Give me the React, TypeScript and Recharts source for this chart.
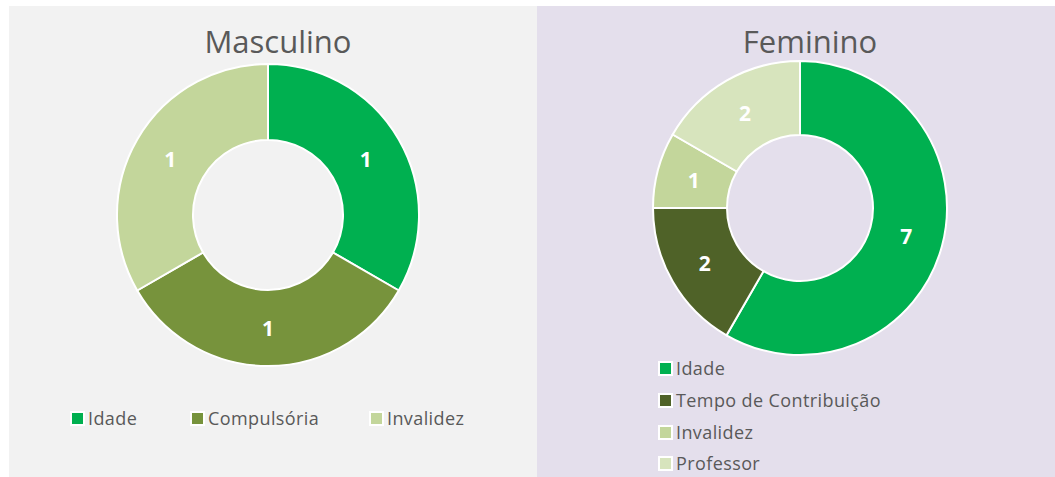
import { Cell, Legend, Pie, PieChart } from 'recharts';

const mascCategories = ['Idade', 'Compulsória', 'Invalidez'];
const mascValues = [1, 1, 1];
const mascColors = ['#00b050', '#77933c', '#c3d69b'];

const femCategories = ['Idade', 'Tempo de Contribuição', 'Invalidez', 'Professor'];
const femValues = [7, 2, 1, 2];
const femColors = ['#00b050', '#4f6228', '#c3d69b', '#d7e4bd'];

const FONT = '"Open Sans", "Noto Sans", sans-serif';
const RAD = Math.PI / 180;

const renderLabel = (props: any) => {
  const { cx, cy, midAngle, innerRadius, outerRadius, value } = props;
  const r = (innerRadius + outerRadius) / 2;
  const x = cx + r * Math.cos(-midAngle * RAD);
  const y = cy + r * Math.sin(-midAngle * RAD);
  return (
    <text
      x={x}
      y={y}
      fill="#fff"
      textAnchor="middle"
      dominantBaseline="central"
      fontFamily={FONT}
      fontWeight="bold"
      fontSize={21}
    >
      {value}
    </text>
  );
};

const legendItem = (name: string, color: string, style: any) => (
  <div key={name} style={{ position: 'absolute', display: 'flex', alignItems: 'center', ...style }}>
    <span
      style={{
        width: 11,
        height: 11,
        background: color,
        border: '2px solid #fff',
        marginRight: 3,
        display: 'inline-block',
      }}
    />
    <span style={{ fontFamily: FONT, fontSize: 18, letterSpacing: 0.4, color: '#595959', whiteSpace: 'nowrap' }}>
      {name}
    </span>
  </div>
);

const mascData = mascCategories.map((name, i) => ({ name, value: mascValues[i] }));
const femData = femCategories.map((name, i) => ({ name, value: femValues[i] }));

const mascLegendX = [70, 190, 369];
const femLegendY = [368, 400, 432, 463];

const titleStyle = {
  position: 'absolute' as const,
  fontFamily: FONT,
  fontSize: 31,
  color: '#595959',
  textAlign: 'center' as const,
  width: 300,
  lineHeight: '40px',
};

export default function App() {
  return (
    <div style={{ position: 'absolute', left: 0, top: 0, width: 1055, height: 477, background: '#fff', overflow: 'hidden' }}>
      <div style={{ position: 'absolute', left: 9, top: 6, width: 528, height: 471, background: '#f2f2f2' }}>
        <div style={{ ...titleStyle, left: 269 - 150, top: 15 }}>Masculino</div>
        <PieChart width={528} height={471} style={{ position: 'absolute', left: 0, top: 0 }}>
          <Pie
            data={mascData}
            dataKey="value"
            nameKey="name"
            cx={254}
            cy={204}
            innerRadius={75}
            outerRadius={151}
            startAngle={90}
            endAngle={-270}
            stroke="#fff"
            strokeWidth={2}
            label={renderLabel}
            labelLine={false}
            isAnimationActive={false}
          >
            {mascData.map((d, i) => (
              <Cell key={d.name} fill={mascColors[i]} />
            ))}
          </Pie>
          <Legend
            wrapperStyle={{ position: 'absolute', left: 0, top: 0, width: 528, height: 471 }}
            content={() => (
              <div style={{ position: 'relative', width: 528, height: 471 }}>
                {mascData.map((d, i) =>
                  legendItem(d.name, mascColors[i], { left: mascLegendX[i] - 9, top: 418 - 6 - 12, height: 24 })
                )}
              </div>
            )}
          />
        </PieChart>
      </div>
      <div style={{ position: 'absolute', left: 537, top: 6, width: 518, height: 471, background: '#e4dfec' }}>
        <div style={{ ...titleStyle, left: 273 - 150, top: 15 }}>Feminino</div>
        <PieChart width={518} height={471} style={{ position: 'absolute', left: 0, top: 0 }}>
          <Pie
            data={femData}
            dataKey="value"
            nameKey="name"
            cx={258}
            cy={197}
            innerRadius={73}
            outerRadius={147}
            startAngle={90}
            endAngle={-270}
            stroke="#fff"
            strokeWidth={2}
            label={renderLabel}
            labelLine={false}
            isAnimationActive={false}
          >
            {femData.map((d, i) => (
              <Cell key={d.name} fill={femColors[i]} />
            ))}
          </Pie>
          <Legend
            wrapperStyle={{ position: 'absolute', left: 0, top: 0, width: 518, height: 471 }}
            content={() => (
              <div style={{ position: 'relative', width: 518, height: 471 }}>
                {femData.map((d, i) =>
                  legendItem(d.name, femColors[i], { left: 658 - 537, top: femLegendY[i] - 6 - 12, height: 24 })
                )}
              </div>
            )}
          />
        </PieChart>
      </div>
    </div>
  );
}
